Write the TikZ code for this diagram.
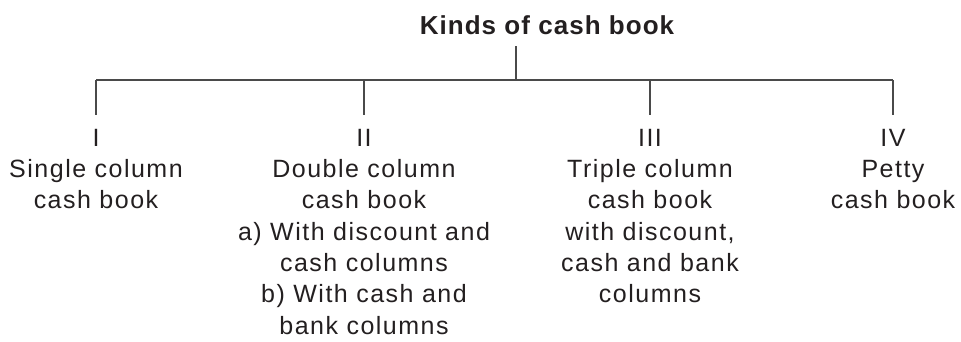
\documentclass[tikz,border=0pt]{standalone}
\usepackage{fontspec}
\setmainfont{Liberation Sans}
\newfontfamily\bodyfont[LetterSpace=6]{Liberation Sans}
\newfontfamily\headfont[LetterSpace=4]{Liberation Sans Bold}
\definecolor{ink}{HTML}{231F20}
\definecolor{rule}{HTML}{4A4A4A}
\begin{document}
\begin{tikzpicture}[x=1pt,y=-1pt,
  heading/.style={font=\headfont\fontsize{26}{32}\selectfont, text=ink,
    inner sep=0pt, outer ysep=12pt, anchor=base},
  kind/.style={font=\bodyfont\fontsize{25}{31.3}\selectfont, text=ink,
    align=center, inner sep=0pt, outer ysep=14pt, anchor=north},
  link/.style={draw=rule, line width=1.2pt}]
  \useasboundingbox (0,0) rectangle (961,341);

  % heading
  \node[heading] (title) at (547,34) {Kinds of cash book};

  % junctions on the horizontal bar
  \coordinate (hub) at (516,80);
  \coordinate (j1) at (96,80);
  \coordinate (j2) at (364,80);
  \coordinate (j3) at (650,80);
  \coordinate (j4) at (893,80);

  % the four kinds
  \node[kind] (k1) at (96,115) {I\\Single column\\cash book};
  \node[kind] (k2) at (364,115) {II\\Double column\\cash book\\a) With discount and\\cash columns\\b) With cash and\\bank columns};
  \node[kind] (k3) at (650,115) {III\\Triple column\\cash book\\with discount,\\cash and bank\\columns};
  \node[kind] (k4) at (893,115) {IV\\Petty\\cash book};

  % connectors
  \draw[link] (title.south -| hub) -- (hub);
  \draw[link] (j1) -- (j4);
  \draw[link] (j1) -- (k1.north);
  \draw[link] (j2) -- (k2.north);
  \draw[link] (j3) -- (k3.north);
  \draw[link] (j4) -- (k4.north);
\end{tikzpicture}
\end{document}
